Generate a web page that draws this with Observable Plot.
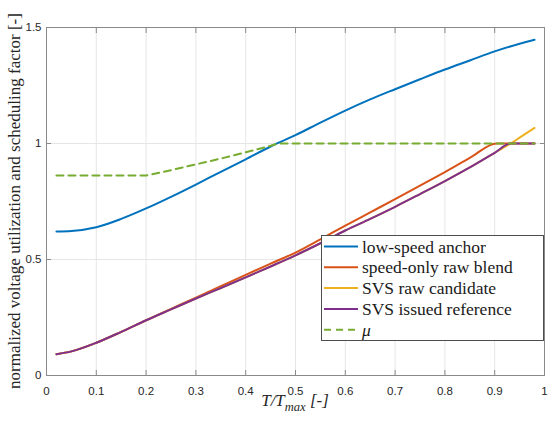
<!DOCTYPE html>
<html><head><meta charset="utf-8">
<script src="https://cdn.jsdelivr.net/npm/d3@7"></script>
<script src="https://cdn.jsdelivr.net/npm/@observablehq/plot@0.6"></script>
<style>body{margin:0;background:#fff}</style>
</head><body><div id="chart"></div>
<script>
// ---- data ----
const tAnchor = [0.02,0.05,0.1,0.15,0.2,0.25,0.3,0.35,0.4,0.45,0.5,0.55,0.6,0.65,0.7,0.75,0.8,0.85,0.9,0.95,0.98];
const anchor  = [0.621,0.623,0.639,0.675,0.72,0.77,0.823,0.878,0.932,0.987,1.036,1.09,1.142,1.19,1.234,1.277,1.319,1.358,1.397,1.43,1.447];

const tBlend = [0.02,0.05,0.1,0.15,0.2,0.25,0.3,0.35,0.4,0.45,0.5,0.55,0.6,0.65,0.7,0.75,0.8,0.85,0.904,0.95,0.98];
const blend  = [0.092,0.104,0.141,0.188,0.238,0.287,0.336,0.385,0.434,0.482,0.53,0.587,0.646,0.703,0.76,0.818,0.877,0.938,1,1,1];

const tRaw = [0.02,0.05,0.1,0.15,0.2,0.25,0.3,0.35,0.4,0.45,0.5,0.55,0.6,0.65,0.7,0.75,0.8,0.85,0.9,0.932,0.95,0.98];
const raw  = [0.092,0.104,0.141,0.188,0.238,0.285,0.332,0.377,0.423,0.47,0.518,0.57,0.625,0.675,0.727,0.782,0.838,0.897,0.96,1,1.025,1.067];

const tIssued = [0.02,0.05,0.1,0.15,0.2,0.25,0.3,0.35,0.4,0.45,0.5,0.55,0.6,0.65,0.7,0.75,0.8,0.85,0.9,0.932,0.95,0.98];
const issued  = [0.092,0.104,0.141,0.188,0.238,0.285,0.332,0.377,0.423,0.47,0.518,0.57,0.625,0.675,0.727,0.782,0.838,0.897,0.96,1,1,1];

const tMu = [0.02,0.1,0.2,0.25,0.3,0.35,0.4,0.45,0.465,0.6,0.8,0.98];
const mu  = [0.862,0.862,0.862,0.885,0.91,0.935,0.962,0.99,1,1,1,1];

const xTicks = [0,0.1,0.2,0.3,0.4,0.5,0.6,0.7,0.8,0.9,1];
const yTicks = [0,0.5,1,1.5];

const seriesNames = ["low-speed anchor","speed-only raw blend","SVS raw candidate","SVS issued reference","μ"];
const seriesColors = ["#0072BD","#D95319","#EDB120","#7E2F8E","#77AC30"];
const xLabel = ["T/T","max"," [-]"];
const yLabel = "normalized voltage utilization and scheduling factor [-]";

function rows(ts, vs) { return ts.map((t, i) => ({t, v: vs[i]})); }

const lineOpts = (c) => ({x: "t", y: "v", stroke: c, strokeWidth: 2, curve: "monotone-x"});
const axisColor = "#8a8a8a";
const fmt = d => String(d);

const svg = Plot.plot({
  width: 550, height: 426,
  marginLeft: 46, marginRight: 6, marginTop: 27, marginBottom: 51,
  style: {fontFamily: "'Liberation Sans', Arial, sans-serif", fontSize: "11.5px", color: "#262626", background: "#fff", overflow: "visible"},
  x: {domain: [0, 1]},
  y: {domain: [0, 1.5]},
  marks: [
    Plot.gridX(xTicks, {stroke: "#e6e6e6", strokeOpacity: 1}),
    Plot.gridY(yTicks, {stroke: "#e6e6e6", strokeOpacity: 1}),
    Plot.line(rows(tAnchor, anchor), lineOpts(seriesColors[0])),
    Plot.line(rows(tBlend, blend), lineOpts(seriesColors[1])),
    Plot.line(rows(tRaw, raw), lineOpts(seriesColors[2])),
    Plot.line(rows(tIssued, issued), lineOpts(seriesColors[3])),
    Plot.line(rows(tMu, mu), {x: "t", y: "v", stroke: seriesColors[4], strokeWidth: 2, strokeDasharray: "7,5"}),
    Plot.frame({stroke: axisColor}),
    Plot.axisX(xTicks, {anchor: "bottom", tickSize: -5, fill: "none", stroke: axisColor, label: null}),
    Plot.axisX(xTicks, {anchor: "top", tickSize: -5, fill: "none", stroke: axisColor, label: null}),
    Plot.axisY(yTicks, {anchor: "left", tickSize: -5, fill: "none", stroke: axisColor, label: null}),
    Plot.axisY(yTicks, {anchor: "right", tickSize: -5, fill: "none", stroke: axisColor, label: null}),
    Plot.axisX(xTicks, {anchor: "bottom", tickSize: 0, tickPadding: 11, fill: "#262626", label: null, tickFormat: fmt}),
    Plot.axisY(yTicks, {anchor: "left", tickSize: 0, tickPadding: 5, fill: "#262626", label: null, tickFormat: fmt})
  ]
});

const s = d3.select(svg);
const serif = "'Liberation Serif', 'Times New Roman', serif";

// y label
s.append("text")
  .attr("transform", "translate(20,201) rotate(-90)")
  .attr("text-anchor", "middle")
  .attr("font-family", serif).attr("font-size", 17).attr("fill", "#262626")
  .text(yLabel);

// x label
const xl = s.append("text")
  .attr("x", 295).attr("y", 406)
  .attr("text-anchor", "middle")
  .attr("font-family", serif).attr("font-size", 17).attr("font-style", "italic").attr("fill", "#262626");
xl.append("tspan").text(xLabel[0]);
xl.append("tspan").attr("font-size", 12.5).attr("dy", 5).text(xLabel[1]);
xl.append("tspan").attr("dy", -5).text(xLabel[2]);

// legend
const lg = s.append("g").attr("transform", "translate(321,235)");
lg.append("rect").attr("x", 0.5).attr("y", 0.5).attr("width", 222).attr("height", 105)
  .attr("fill", "#fff").attr("stroke", "#4d4d4d").attr("stroke-width", 1);
seriesNames.forEach((name, i) => {
  const cy = 11.5 + i * 20.8;
  lg.append("line").attr("x1", 3).attr("x2", 37).attr("y1", cy).attr("y2", cy)
    .attr("stroke", seriesColors[i]).attr("stroke-width", 2)
    .attr("stroke-dasharray", i === 4 ? "7,5" : null);
  lg.append("text").attr("x", 41).attr("y", cy + 6)
    .attr("text-anchor", "start")
    .attr("font-family", serif).attr("font-size", 17.5).attr("fill", "#1a1a1a")
    .attr("font-style", i === 4 ? "italic" : null)
    .text(name);
});

document.getElementById("chart").append(svg);
</script></body></html>
